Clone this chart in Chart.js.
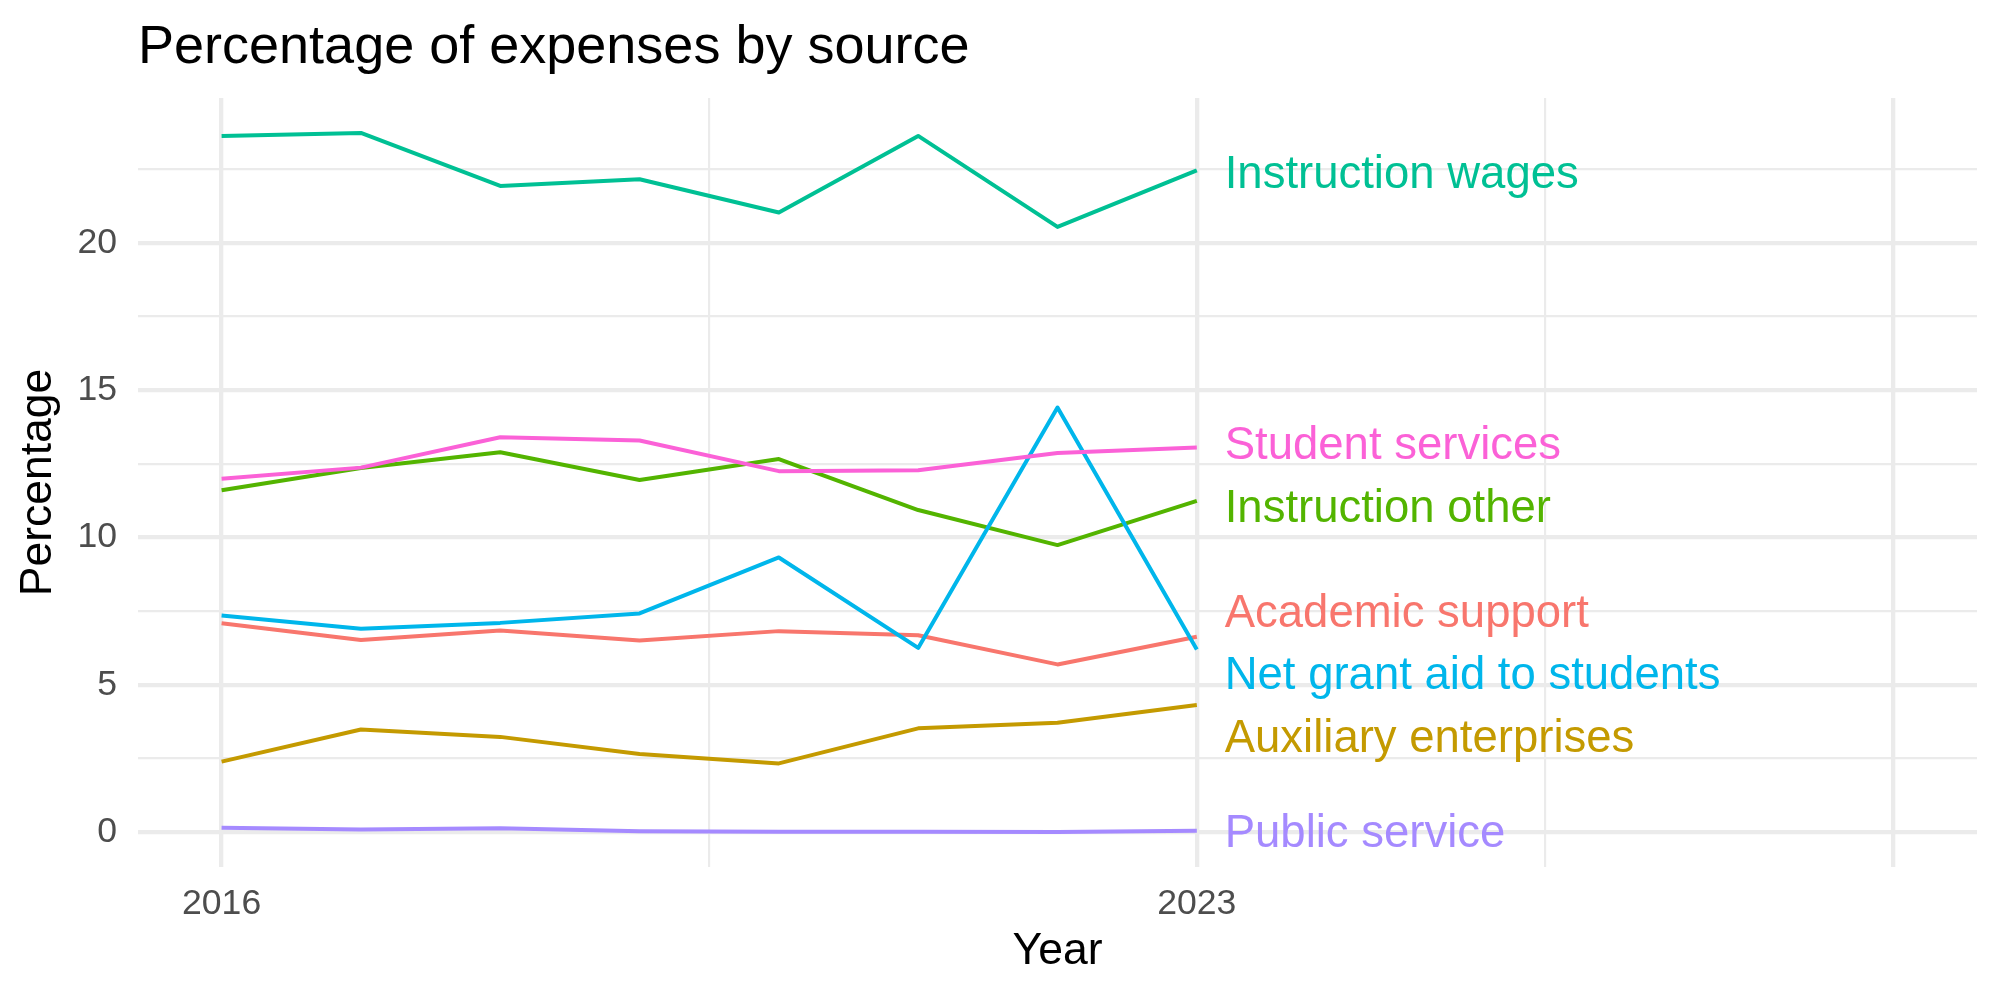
<!DOCTYPE html>
<html>
<head>
<meta charset="utf-8">
<script src="https://cdn.jsdelivr.net/npm/chart.js@4.4.1/dist/chart.umd.min.js"></script>
<style>
  html, body { margin: 0; padding: 0; background: #ffffff; }
  #wrap { width: 2000px; height: 1000px; position: relative; }
</style>
</head>
<body>
<div id="wrap"><canvas id="c" width="2000" height="1000"></canvas></div>
<script>
// ---------------- data ----------------
const years = [2016, 2017, 2018, 2019, 2020, 2021, 2022, 2023];
const seriesNames = ['Academic support', 'Auxiliary enterprises', 'Instruction other', 'Instruction wages',
                     'Net grant aid to students', 'Public service', 'Student services'];
const academicSupport      = [7.09, 6.52, 6.84, 6.50, 6.82, 6.68, 5.69, 6.63];
const auxiliaryEnterprises = [2.39, 3.48, 3.23, 2.65, 2.33, 3.52, 3.71, 4.31];
const instructionOther     = [11.60, 12.36, 12.89, 11.95, 12.66, 10.93, 9.74, 11.24];
const instructionWages     = [23.63, 23.73, 21.93, 22.16, 21.03, 23.63, 20.54, 22.46];
const netGrantAid          = [7.35, 6.90, 7.10, 7.42, 9.32, 6.25, 14.41, 6.20];
const publicService        = [0.15, 0.09, 0.13, 0.03, 0.01, 0.01, 0.00, 0.04];
const studentServices      = [11.99, 12.37, 13.40, 13.29, 12.25, 12.28, 12.87, 13.05];
const seriesColors = ['#F8766D', '#C49A00', '#53B400', '#00C094', '#00B6EB', '#A58AFF', '#FB61D7'];
// end-label vertical positions (data units, after label repelling) and x anchor
const labelY = [7.51, 3.26, 11.07, 22.43, 5.41, 0.04, 13.20];
const labelYear = 2023.2;
// axis breaks
const xLimits = [2016, 2028];
const xMajorTicks = [2016, 2023, 2028];
const xTickLabels = ['2016', '2023', ''];
const xMinorTicks = [2019.5, 2025.5];
const yMajorTicks = [0, 5, 10, 15, 20];
const yMinorTicks = [2.5, 7.5, 12.5, 17.5, 22.5];

const titleText = 'Percentage of expenses by source';
const xTitle = 'Year';
const yTitle = 'Percentage';

// ---------------- build ----------------
const allSeries = [academicSupport, auxiliaryEnterprises, instructionOther, instructionWages,
                   netGrantAid, publicService, studentServices];
const FONT = "'Liberation Sans', Arial, Helvetica, sans-serif";

const allVals = allSeries.flat();
const yMinData = Math.min(...allVals), yMaxData = Math.max(...allVals);
const yPad = (yMaxData - yMinData) * 0.05;
const xPad = (xLimits[1] - xLimits[0]) * 0.05;

const datasets = allSeries.map((vals, i) => ({
  label: seriesNames[i],
  data: years.map((y, j) => ({ x: y, y: vals[j] })),
  borderColor: seriesColors[i],
  backgroundColor: seriesColors[i],
  borderWidth: 4,
  pointRadius: 0,
  tension: 0,
  fill: false,
  borderJoinStyle: 'round',
  borderCapStyle: 'butt',
  order: allSeries.length - i
}));

const overlay = {
  id: 'overlay',
  afterDraw(chart) {
    const { ctx, scales } = chart;
    ctx.save();
    // title
    ctx.fillStyle = '#000000';
    ctx.font = `54px ${FONT}`;
    ctx.textAlign = 'left';
    ctx.textBaseline = 'alphabetic';
    ctx.fillText(titleText, chart.chartArea.left, 63);
    // end labels
    const fs = 45.5;
    ctx.font = `${fs}px ${FONT}`;
    seriesNames.forEach((name, i) => {
      ctx.fillStyle = seriesColors[i];
      const px = scales.x.getPixelForValue(labelYear);
      const py = scales.y.getPixelForValue(labelY[i]) + 0.358 * fs;
      ctx.fillText(name, px, py);
    });
    ctx.restore();
  }
};

const isIn = (arr, v) => arr.some(a => Math.abs(a - v) < 1e-6);

new Chart(document.getElementById('c'), {
  type: 'line',
  data: { datasets },
  plugins: [overlay],
  options: {
    responsive: false,
    animation: false,
    devicePixelRatio: 1,
    layout: { padding: { top: 98, right: 23, left: 0, bottom: 0 } },
    plugins: { legend: { display: false }, tooltip: { enabled: false }, title: { display: false } },
    scales: {
      x: {
        type: 'linear',
        min: xLimits[0] - xPad,
        max: xLimits[1] + xPad,
        afterBuildTicks(scale) {
          scale.ticks = [...xMajorTicks, ...xMinorTicks].sort((a, b) => a - b).map(v => ({ value: v }));
        },
        afterFit(scale) { scale.height = 133; },
        grid: {
          color: '#EBEBEB',
          lineWidth: c => (c.tick && isIn(xMinorTicks, c.tick.value)) ? 2.15 : 4.3,
          drawTicks: false
        },
        border: { display: false },
        ticks: {
          autoSkip: false, maxRotation: 0, minRotation: 0,
          padding: 15.6,
          color: '#4D4D4D',
          font: { family: FONT, size: 35.6 },
          callback: v => { const k = xMajorTicks.findIndex(a => Math.abs(a - v) < 1e-6); return k >= 0 ? xTickLabels[k] : ''; }
        },
        title: {
          display: true, text: xTitle, color: '#000000',
          font: { family: FONT, size: 44.5 },
          padding: { top: 0, bottom: 21.7 }
        }
      },
      y: {
        type: 'linear',
        min: yMinData - yPad,
        max: yMaxData + yPad,
        afterBuildTicks(scale) {
          scale.ticks = [...yMajorTicks, ...yMinorTicks].sort((a, b) => a - b).map(v => ({ value: v }));
        },
        afterFit(scale) { scale.width = 138; },
        grid: {
          color: '#EBEBEB',
          lineWidth: c => (c.tick && isIn(yMinorTicks, c.tick.value)) ? 2.15 : 4.3,
          drawTicks: false
        },
        border: { display: false },
        ticks: {
          autoSkip: false,
          padding: 21,
          color: '#4D4D4D',
          font: { family: FONT, size: 35.6 },
          callback: v => isIn(yMajorTicks, v) ? String(v) : ''
        },
        title: {
          display: true, text: yTitle, color: '#000000',
          font: { family: FONT, size: 44.5 },
          padding: { top: 11.8, bottom: 0 }
        }
      }
    }
  }
});
</script>
</body>
</html>
